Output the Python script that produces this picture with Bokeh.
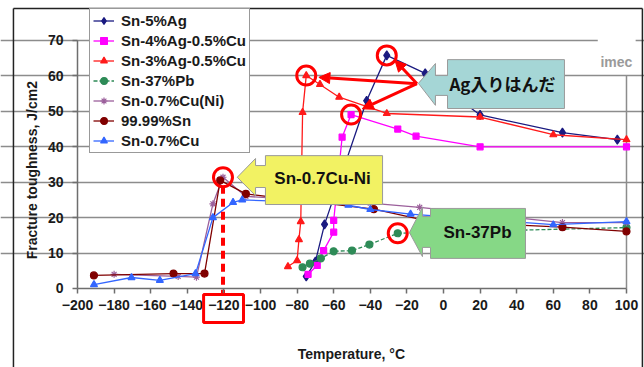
from bokeh.plotting import figure
from bokeh.models import (Range1d, FixedTicker, Legend, LegendItem, Label, Arrow,
                          NormalHead, BoxAnnotation)
from bokeh.embed import file_html
from bokeh.resources import INLINE

# ---------------- data ----------------
temp_ticks = list(range(-200, 101, 20))
tough_ticks = list(range(0, 71, 10))

sn5ag_temp = [-75, -70, -65, -42, -31, -10, 20, 65, 95]
sn5ag_tough = [3.4, 7.6, 18.1, 53, 65.8, 60.7, 49, 44, 42]

sn4ag_temp = [-74, -69, -65.5, -60, -60, -55.4, -50.5, -25, -15, 20, 100]
sn4ag_tough = [4, 6.5, 10.7, 15.9, 19.2, 42.7, 49.1, 45, 43, 40, 40]

sn3ag_temp = [-85, -80, -79, -78, -77, -75, -67.5, -57, -31, 20, 60, 100]
sn3ag_tough = [6.2, 7.9, 13.8, 18.9, 49.7, 60.1, 57.6, 54, 49.4, 48.4, 43.4, 42]

snpb_temp = [-77, -73, -67, -60, -50, -40.5, -25, 100]
snpb_tough = [6, 7, 8.5, 10.5, 10.7, 12.4, 15.6, 17.2]

cuni_temp = [-180, -145, -135, -126, -120.5, -108, -75, -40, -13, 65, 100]
cuni_tough = [4, 3.4, 3.2, 23.9, 31.4, 26, 25, 24.1, 22.9, 18.6, 18.6]

sn_temp = [-191, -147.5, -130.6, -122, -108, -38, -10, 65, 100]
sn_tough = [3.7, 4.2, 4.2, 30.5, 26.7, 22.4, 19.2, 17.3, 16.1]

cu_temp = [-191, -170.5, -155, -135.5, -126, -115, -110, -87.5, -70, -63, -52, -40, -18, 60, 100]
cu_tough = [1.1, 3.1, 2.3, 4.2, 20, 24.3, 25, 24.6, 24.5, 24.5, 23.5, 22.3, 21, 18, 18.9]

series_names = ["Sn-5%Ag", "Sn-4%Ag-0.5%Cu", "Sn-3%Ag-0.5%Cu", "Sn-37%Pb",
                "Sn-0.7%Cu(Ni)", "99.99%Sn", "Sn-0.7%Cu"]

# ---------------- figure ----------------
# The frame fills the whole canvas; axes are pinned at x=-200 / y=0 so that
# annotations outside the plotting area (titles, red box) are not clipped.
W, H = 644, 367
p = figure(width=W, height=H, x_range=Range1d(-242.08, 109.84), y_range=Range1d(-22.30, 81.29),
           output_backend="svg", toolbar_location=None,
           min_border_left=0, min_border_right=0, min_border_top=0, min_border_bottom=0)
p.outline_line_color = None
p.background_fill_color = "white"
p.border_fill_color = "white"

FONT = "Liberation Sans"
for ax in (p.xaxis[0], p.yaxis[0]):
    ax.major_label_text_font = FONT
    ax.major_label_text_font_style = "bold"
    ax.major_label_text_font_size = "14px"
    ax.major_label_text_color = "#1a1a1a"
    ax.axis_line_color = "#6e6e6e"
    ax.axis_line_width = 1.5
    ax.major_tick_line_color = "#6e6e6e"
    ax.major_tick_line_width = 1.5
    ax.major_tick_in = 0
    ax.major_tick_out = 5
    ax.minor_tick_line_color = None
p.xaxis.ticker = FixedTicker(ticks=temp_ticks)
p.yaxis.ticker = FixedTicker(ticks=tough_ticks)
p.xaxis.bounds = (temp_ticks[0], temp_ticks[-1])
p.yaxis.bounds = (tough_ticks[0], tough_ticks[-1])
p.xaxis.fixed_location = tough_ticks[0]
p.yaxis.fixed_location = temp_ticks[0]
p.xaxis.major_label_standoff = 7
p.yaxis.major_label_standoff = 9
p.xgrid.visible = False
p.ygrid.ticker = FixedTicker(ticks=tough_ticks[1:])
p.ygrid.bounds = (temp_ticks[0], temp_ticks[-1])
p.ygrid.grid_line_color = "#8c8c8c"
p.ygrid.grid_line_width = 1.5

# right border of plot area
p.segment(x0=[temp_ticks[-1]], y0=[0], x1=[temp_ticks[-1]], y1=[tough_ticks[-2]],
          line_color="#8c8c8c", line_width=1.5)
# logo cover
p.quad(left=[84.3], right=[105], bottom=[60.6], top=[79], fill_color="white", line_color=None)
p.add_layout(Label(x=94.5, y=63.8, text="imec", text_color="#9a9a9a", text_font=FONT,
                   text_font_style="bold", text_font_size="14px", text_align="center",
                   text_baseline="middle"))

# ---------------- series ----------------
specs = [
    (sn5ag_temp, sn5ag_tough, "#1a1a80", "diamond", 9, None),
    (sn4ag_temp, sn4ag_tough, "#ff00ff", "square", 6, None),
    (sn3ag_temp, sn3ag_tough, "#ff1a1a", "triangle", 7, None),
    (snpb_temp, snpb_tough, "#2e8b57", "circle", 7, "4 2"),
    (cuni_temp, cuni_tough, "#9b5f9b", "asterisk", 7, None),
    (sn_temp, sn_tough, "#800000", "circle", 7, None),
    (cu_temp, cu_tough, "#3366ff", "triangle", 7, None),
]
items = []
for (xs, ys, col, mk, sz, dash), name in zip(specs, series_names):
    kw = {}
    if dash:
        kw["line_dash"] = dash
    ln = p.line(xs, ys, line_color=col, line_width=1.3, **kw)
    sc = p.scatter(xs, ys, marker=mk, size=sz, fill_color=col, line_color=col, line_width=1.2)
    items.append(LegendItem(label=name, renderers=[ln, sc]))

legend = Legend(items=items, location=(89, 214))
legend.label_text_font = FONT
legend.label_text_font_style = "bold"
legend.label_text_font_size = "15px"
legend.label_text_color = "#1a1a1a"
legend.glyph_width = 21
legend.glyph_height = 17
legend.label_height = 17
legend.spacing = 3
legend.padding = 3
legend.margin = 0
legend.label_standoff = 7
legend.border_line_color = "#333333"
legend.border_line_width = 1
legend.background_fill_color = "white"
legend.background_fill_alpha = 1
p.add_layout(legend)

# ---------------- callouts ----------------
# yellow: Sn-0.7Cu-Ni
p.patch([-97.3, -33.3, -33.3, -97.3, -97.3, -102.7, -102.7, -112.7, -102.7, -102.7, -97.3],
        [37.5, 37.5, 23.7, 23.7, 28.5, 28.5, 26.2, 31.4, 36.7, 34.7, 34.7],
        fill_color="#f2f263", line_color="#9a9a9a", line_width=1)
# teal: Ag入りはんだ
p.patch([2.2, 66.1, 66.1, 2.2, 2.2, -4.4, -4.4, -13.7, -4.4, -4.4, 2.2],
        [64.6, 64.6, 50.8, 50.8, 54.5, 54.5, 51.7, 57.9, 63.5, 60.1, 60.1],
        fill_color="#a5d6d6", line_color="#9a9a9a", line_width=1)
# green: Sn-37Pb
p.patch([-7.1, 44.8, 44.8, -7.1, -7.1, -11.5, -11.5, -18.6, -11.5, -11.5, -7.1],
        [22.6, 22.6, 8.5, 8.5, 11.6, 11.6, 9.0, 15.8, 22.9, 20.3, 20.3],
        fill_color="#86d886", line_color="#9a9a9a", line_width=1)

for x, y, t, f in [(-66.1, 31.0, "Sn-0.7Cu-Ni", FONT), (32.2, 57.9, "Ag入りはんだ", "Noto Sans CJK JP"),
                   (18.6, 15.8, "Sn-37Pb", FONT)]:
    p.add_layout(Label(x=x, y=y, text=t, text_font=f, text_font_style="bold",
                       text_font_size="17px", text_color="#111111",
                       text_align="center", text_baseline="middle"))

# red circles on highlighted points
circ_x = [cuni_temp[4], sn3ag_temp[5], sn4ag_temp[6], sn5ag_temp[4], snpb_temp[6]]
circ_y = [cuni_tough[4], sn3ag_tough[5], sn4ag_tough[6], sn5ag_tough[4], snpb_tough[6]]
p.scatter(circ_x, circ_y, marker="circle", size=19, fill_alpha=0, line_color="#ff0000", line_width=3)

# red arrows from Ag callout
for xe, ye in [(-26.5, 64.4), (-68.1, 59.6), (-44.4, 50.7)]:
    p.add_layout(Arrow(end=NormalHead(size=11, fill_color="#ff0000", line_color="#ff0000"),
                       x_start=-14.5, y_start=57.8, x_end=xe, y_end=ye,
                       line_color="#ff0000", line_width=3))

# dashed red drop line and box around -120
p.segment(x0=[cuni_temp[4]], y0=[29.0], x1=[cuni_temp[4]], y1=[-1.7],
          line_color="#ff0000", line_width=4, line_dash="8 5")
p.add_layout(BoxAnnotation(left=-131.1, right=-109.3, top=-1.7, bottom=-9.6,
                           fill_alpha=0, line_color="#ff0000", line_width=3, line_alpha=1))

# axis titles
p.add_layout(Label(x=-225.1, y=33.4, text="Fracture toughness, J/cm2", angle=90, angle_units="deg",
                   text_font=FONT, text_font_style="bold", text_font_size="14px",
                   text_color="#1a1a1a", text_align="center", text_baseline="middle"))
p.add_layout(Label(x=-50.3, y=-18.6, text="Temperature, °C",
                   text_font=FONT, text_font_style="bold", text_font_size="14px",
                   text_color="#1a1a1a", text_align="center", text_baseline="middle"))

# chart outer border
p.segment(x0=[-235.0, -235.0, 108.7], y0=[79.0, 79.0, 79.0],
          x1=[-235.0, 108.7, 108.7], y1=[-23.0, 79.0, -23.0],
          line_color="#222222", line_width=1.5)

open("out.html", "w").write(file_html(p, INLINE))
